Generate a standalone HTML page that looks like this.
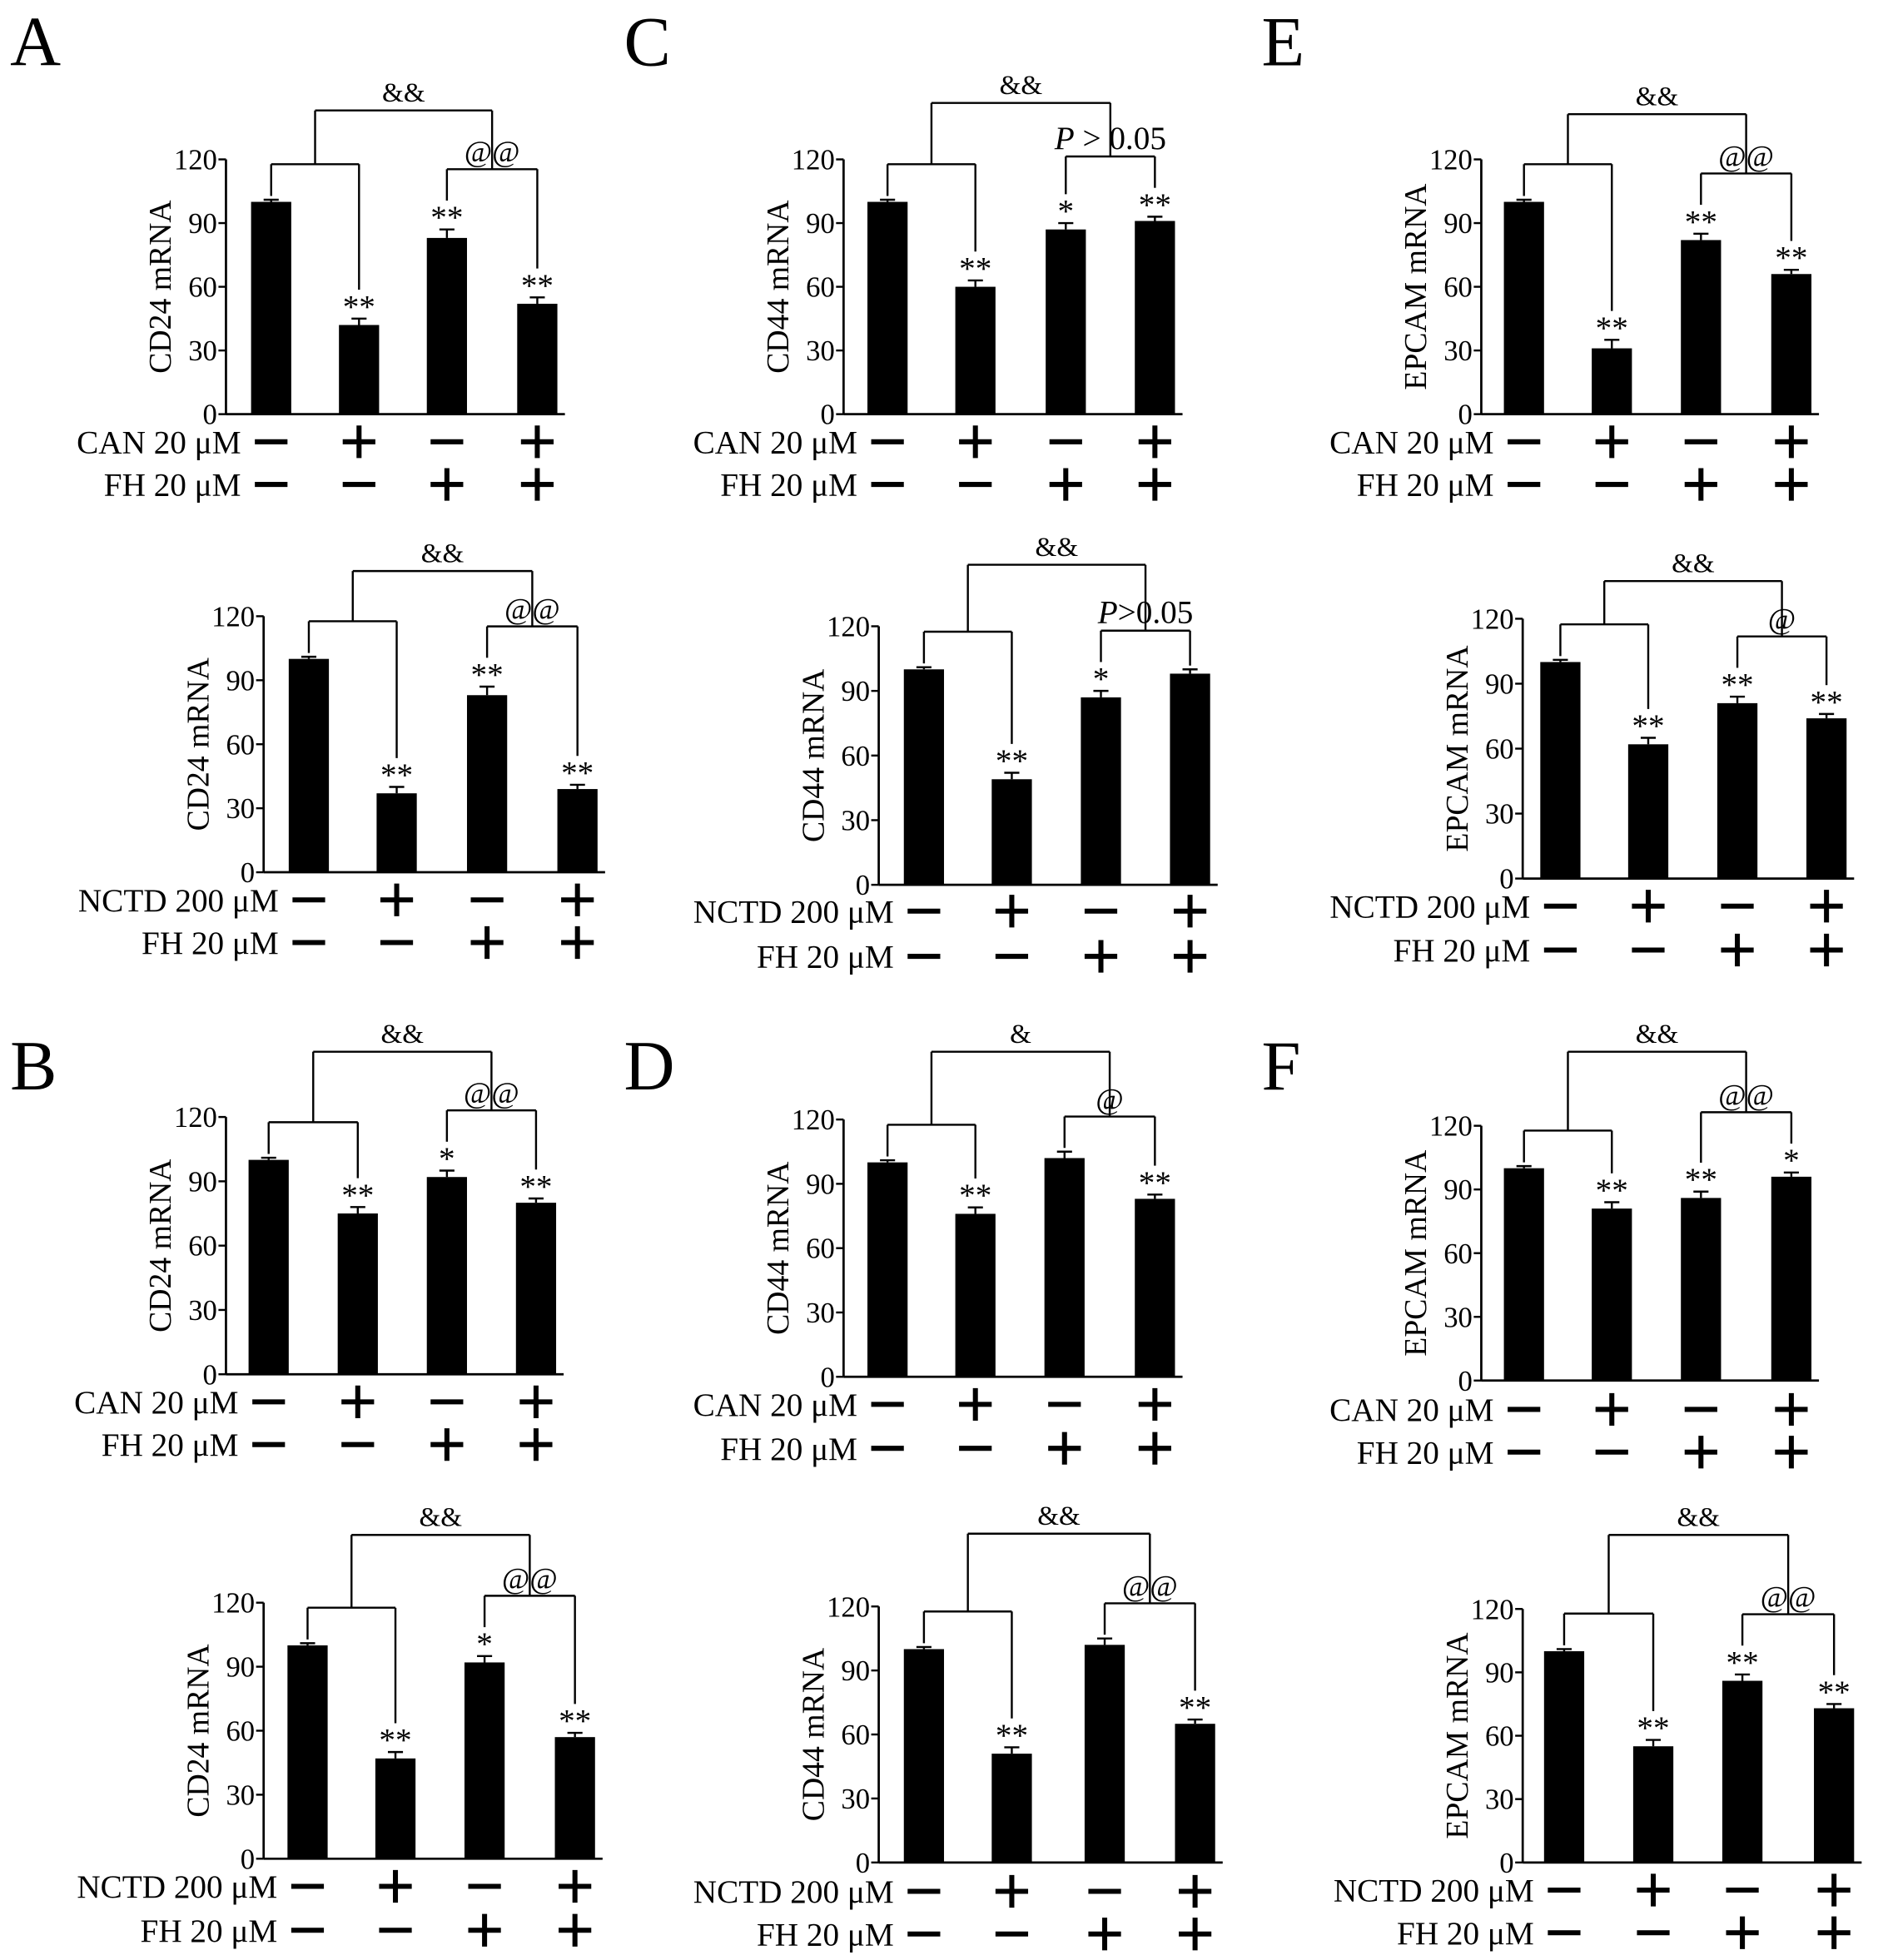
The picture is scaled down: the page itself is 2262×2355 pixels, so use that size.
<!DOCTYPE html>
<html><head><meta charset="utf-8"><style>
html,body{margin:0;padding:0;background:#fff}
svg{display:block}
text{font-family:"Liberation Serif",serif;fill:#000}
</style></head><body>
<svg id="fig" width="2262" height="2355" viewBox="0 0 1500 1561.7" xmlns="http://www.w3.org/2000/svg"></svg>
<script>
const ticks=[0,30,60,90,120];
const valsA1=[100,42,83,52], errA1=[1,3,4,3], starA1=["","**","**","**"];
const valsA2=[100,37,83,39], errA2=[1,3,4,2], starA2=["","**","**","**"];
const valsC1=[100,60,87,91], errC1=[1,3,3,2], starC1=["","**","*","**"];
const valsC2=[100,49,87,98], errC2=[1,3,3,2], starC2=["","**","*",""];
const valsE1=[100,31,82,66], errE1=[1,4,3,2], starE1=["","**","**","**"];
const valsE2=[100,62,81,74], errE2=[1,3,3,2], starE2=["","**","**","**"];
const valsB1=[100,75,92,80], errB1=[1,3,3,2], starB1=["","**","*","**"];
const valsB2=[100,47,92,57], errB2=[1,3,3,2], starB2=["","**","*","**"];
const valsD1=[100,76,102,83], errD1=[1,3,3,2], starD1=["","**","","**"];
const valsD2=[100,51,102,65], errD2=[1,3,3,2], starD2=["","**","","**"];
const valsF1=[100,81,86,96], errF1=[1,3,3,2], starF1=["","**","**","*"];
const valsF2=[100,55,86,73], errF2=[1,3,3,2], starF2=["","**","**","**"];
const rowA=["CAN 20 μM","FH 20 μM"], rowN=["NCTD 200 μM","FH 20 μM"];
const signs1=["−","+","−","+"], signs2=["−","−","+","+"];

const panels=[
 {id:"a1",ax:180,t:127,b:330,bx:[216,286,356,428],v:valsA1,e:errA1,s:starA1,yl:"CD24 mRNA",rows:rowA,ry:[352,386],oy:88,ol:"&&",il:"@@"},
 {id:"a2",ax:210,t:491,b:695,bx:[246,316,388,460],v:valsA2,e:errA2,s:starA2,yl:"CD24 mRNA",rows:rowN,ry:[717,751],oy:455,ol:"&&",il:"@@"},
 {id:"c1",ax:672,t:127,b:330,bx:[707,777,849,920],v:valsC1,e:errC1,s:starC1,yl:"CD44 mRNA",rows:rowA,ry:[352,386],oy:82,ol:"&&",il:"P > 0.05",ital:true},
 {id:"c2",ax:700,t:499,b:705,bx:[736,806,877,948],v:valsC2,e:errC2,s:starC2,yl:"CD44 mRNA",rows:rowN,ry:[726,762],oy:450,ol:"&&",il:"P>0.05",ital:true},
 {id:"e1",ax:1180,t:127,b:330,bx:[1214,1284,1355,1427],v:valsE1,e:errE1,s:starE1,yl:"EPCAM mRNA",rows:rowA,ry:[352,386],oy:91,ol:"&&",il:"@@"},
 {id:"e2",ax:1213,t:493,b:700,bx:[1243,1313,1384,1455],v:valsE2,e:errE2,s:starE2,yl:"EPCAM mRNA",rows:rowN,ry:[722,757],oy:463,ol:"&&",il:"@"},
 {id:"b1",ax:180,t:890,b:1095,bx:[214,285,356,427],v:valsB1,e:errB1,s:starB1,yl:"CD24 mRNA",rows:rowA,ry:[1117,1151],oy:838,ol:"&&",il:"@@"},
 {id:"b2",ax:210,t:1277,b:1481,bx:[245,315,386,458],v:valsB2,e:errB2,s:starB2,yl:"CD24 mRNA",rows:rowN,ry:[1503,1538],oy:1223,ol:"&&",il:"@@"},
 {id:"d1",ax:672,t:892,b:1097,bx:[707,777,848,920],v:valsD1,e:errD1,s:starD1,yl:"CD44 mRNA",rows:rowA,ry:[1119,1154],oy:838,ol:"&",il:"@"},
 {id:"d2",ax:700,t:1280,b:1484,bx:[736,806,880,952],v:valsD2,e:errD2,s:starD2,yl:"CD44 mRNA",rows:rowN,ry:[1507,1541],oy:1222,ol:"&&",il:"@@"},
 {id:"f1",ax:1180,t:897,b:1100,bx:[1214,1284,1355,1427],v:valsF1,e:errF1,s:starF1,yl:"EPCAM mRNA",rows:rowA,ry:[1123,1157],oy:838,ol:"&&",il:"@@"},
 {id:"f2",ax:1213,t:1282,b:1484,bx:[1246,1317,1388,1461],v:valsF2,e:errF2,s:starF2,yl:"EPCAM mRNA",rows:rowN,ry:[1506,1540],oy:1223,ol:"&&",il:"@@"}
];
const letters=[["A",8,52],["C",497,52],["E",1005,52],["B",8,868],["D",497,868],["F",1005,868]];
const svg=document.getElementById("fig");
const NS="http://www.w3.org/2000/svg";
function mk(tag,attrs,parent){const el=document.createElementNS(NS,tag);for(const k in attrs)el.setAttribute(k,attrs[k]);(parent||svg).appendChild(el);return el;}
function line(g,x1,y1,x2,y2,w){return mk("line",{x1,y1,x2,y2,stroke:"#000","stroke-width":w||1.6},g);}
function txt(g,x,y,s,size,anchor){const t=mk("text",{x,y,"font-size":size,"text-anchor":anchor||"start"},g);t.textContent=s;return t;}

letters.forEach(L=>{const t=txt(svg,L[1],L[2],L[0],56);

});

panels.forEach(p=>{
 const g=mk("g",{});
 
 
 const y=v=>p.b-(p.b-p.t)*v/120;
 const ax=line(g,p.ax,p.t,p.ax,p.b,1.8);
 
 
 line(g,p.ax,p.b,p.bx[3]+22,p.b,1.8);
 ticks.forEach(tv=>{line(g,p.ax-6,y(tv),p.ax,y(tv),1.6);
  const tl=txt(g,p.ax-7,y(tv)+8,String(tv),23,"end");
  
  });
 const yl=txt(g,0,0,p.yl,25,"middle");
 yl.setAttribute("transform",`translate(${p.ax-44},${(p.t+p.b)/2}) rotate(-90)`);
 
 
 const tops=[];
 p.v.forEach((v,i)=>{
  const cx=p.bx[i];
  const r=mk("rect",{x:cx-16,y:y(v),width:32,height:p.b-y(v),fill:"#000"},g);
  
  
  const ey=y(v+p.e[i]);
  line(g,cx,y(v),cx,ey,1.6);line(g,cx-6,ey,cx+6,ey,1.6);
  let top=ey;
  if(p.s[i]){const st=txt(g,cx,ey-1,p.s[i],26,"middle");
   
   top=ey-20;}
  tops.push(top);
 });
 const y1=y(100)-30;
 line(g,p.bx[0],y1,p.bx[1],y1);line(g,p.bx[0],y1,p.bx[0],tops[0]-3);line(g,p.bx[1],y1,p.bx[1],tops[1]-3);
 const y2=Math.min(tops[2],tops[3])-28;
 line(g,p.bx[2],y2,p.bx[3],y2);line(g,p.bx[2],y2,p.bx[2],tops[2]-3);line(g,p.bx[3],y2,p.bx[3],tops[3]-3);
 const il=txt(g,(p.bx[2]+p.bx[3])/2,y2-6,"",p.ital?26:24,"middle");
 if(p.ital){const ts=mk("tspan",{"font-style":"italic"},il);ts.textContent="P";il.appendChild(document.createTextNode(p.il.slice(1)));}
 else il.textContent=p.il;
 
 
 const m1=(p.bx[0]+p.bx[1])/2,m2=(p.bx[2]+p.bx[3])/2;
 line(g,m1,p.oy,m2,p.oy);line(g,m1,p.oy,m1,y1);line(g,m2,p.oy,m2,y2);
 const ol=txt(g,(m1+m2)/2,p.oy-7,p.ol,22,"middle");
 
 
 [signs1,signs2].forEach((sg,ri)=>{
  const ry=p.ry[ri];
  const lab=txt(g,p.bx[0]-24,ry+9,p.rows[ri],26,"end");
  
  
  sg.forEach((s,i)=>{const cx=p.bx[i];
   line(g,cx-13,ry,cx+13,ry,4);
   if(s==="+")line(g,cx,ry-13,cx,ry+13,4);});
 });
});
</script>
</body></html>
